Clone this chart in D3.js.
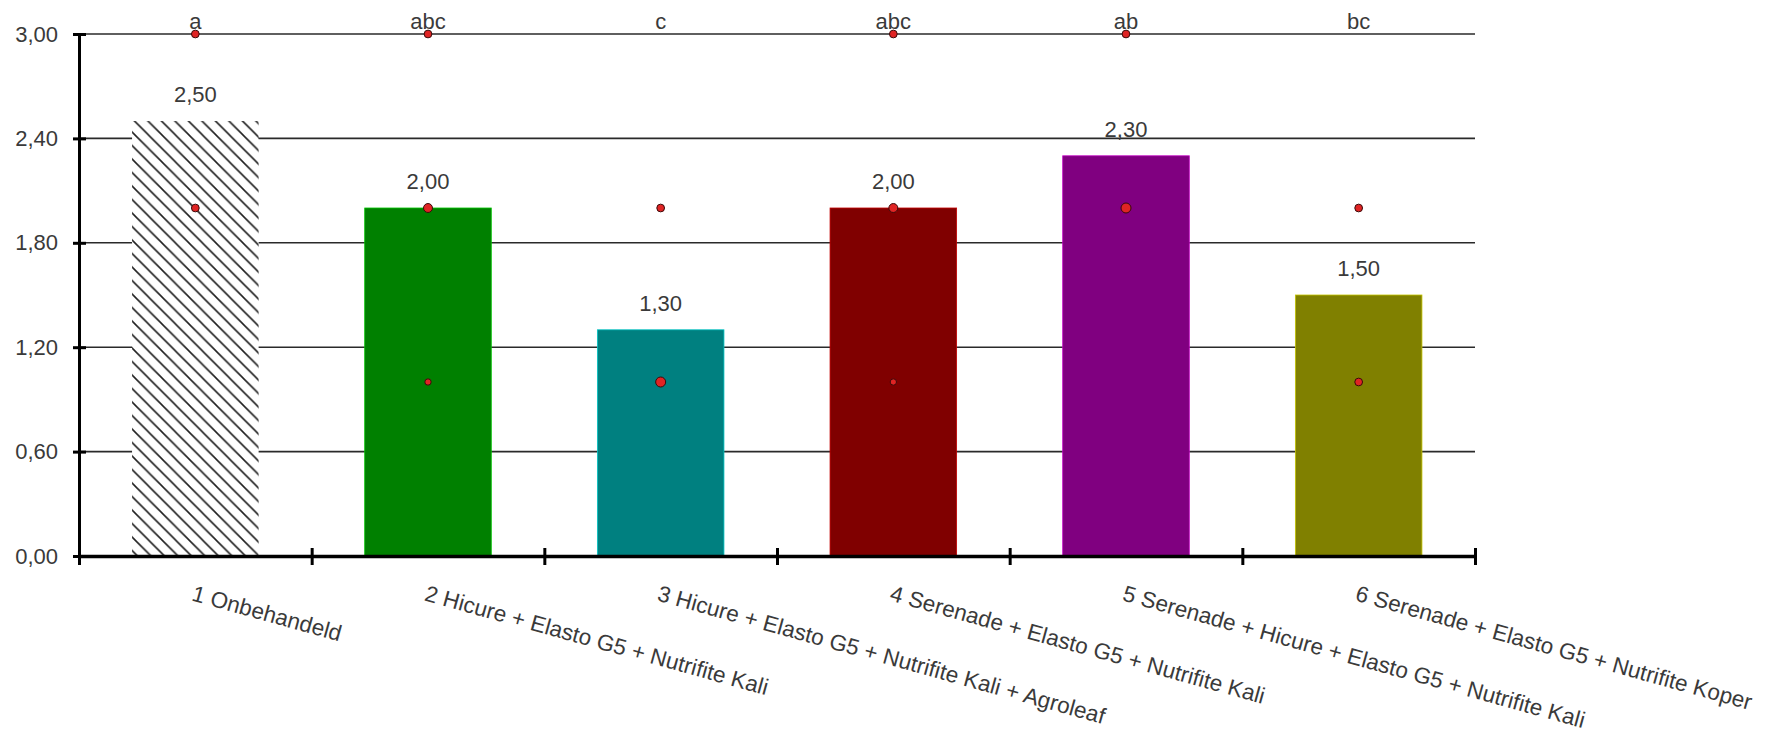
<!DOCTYPE html>
<html>
<head>
<meta charset="utf-8">
<script src="https://cdn.jsdelivr.net/npm/d3@7"></script>
<style>
  body { margin: 0; background: #fff; }
  text { font-family: "Liberation Sans", Arial, sans-serif; fill: #3a3a3a; }
</style>
</head>
<body>
<div id="chart"></div>
<script>
// DATA
const treatments = [
  "1 Onbehandeld",
  "2 Hicure + Elasto G5 + Nutrifite Kali",
  "3 Hicure + Elasto G5 + Nutrifite Kali + Agroleaf",
  "4 Serenade + Elasto G5 + Nutrifite Kali",
  "5 Serenade + Hicure + Elasto G5 + Nutrifite Kali",
  "6 Serenade + Elasto G5 + Nutrifite Koper"
];
const means = [2.5, 2.0, 1.3, 2.0, 2.3, 1.5];
const letters = ["a", "abc", "c", "abc", "ab", "bc"];
const yTicks = [0, 0.6, 1.2, 1.8, 2.4, 3.0];

// single observations (treatment index, score, how many)
const obsTreatment = [0, 0, 1, 1, 1, 2, 2, 3, 3, 3, 4, 4, 5, 5];
const obsScore = [3, 2, 3, 2, 1, 2, 1, 3, 2, 1, 3, 2, 2, 1];
const obsCount = [3, 3, 3, 4, 2, 3, 5, 3, 4, 2, 3, 5, 3, 3];

// COLORS ("hatch" = pattern)
const barColors = ["hatch", "#008000", "#008080", "#800000", "#800080", "#808000"];

// SIZES
const w = 1775;
const h = 738;
const plotLeft = 79;
const plotRight = 1475;
const plotTop = 34;
const plotBottom = 556;

const svg = d3.select("#chart").append("svg").attr("width", w).attr("height", h);

// hatch pattern for the untreated bar
const pat = svg.append("defs").append("pattern")
  .attr("id", "hatch")
  .attr("patternUnits", "userSpaceOnUse")
  .attr("width", 13.5)
  .attr("height", 13.5);
pat.append("rect").attr("width", 13.5).attr("height", 13.5).attr("fill", "#fff");
pat.append("path")
  .attr("d", "M-3.4,10.1 L3.4,16.9 M0,0 L13.5,13.5 M10.1,-3.4 L16.9,3.4")
  .attr("stroke", "#222")
  .attr("stroke-width", 1.6);

// SCALES
const x = d3.scaleBand().domain(d3.range(treatments.length)).range([plotLeft, plotRight]);
const xEdge = d3.scaleLinear().domain([0, treatments.length]).range([plotLeft, plotRight]);
const y = d3.scaleLinear().domain([0, 3]).range([plotBottom, plotTop]);
const r = d3.scaleSqrt().domain([0, 5]).range([0, 5]);
const barW = x.bandwidth() * 0.544;
const cx = (i) => x(i) + x.bandwidth() / 2;
const fmt = (v) => d3.format(".2f")(v).replace(".", ",");

// GRIDLINES (behind bars)
svg.append("g")
  .selectAll("line")
  .data(yTicks.filter((d) => d > 0))
  .enter()
  .append("line")
  .attr("x1", plotLeft)
  .attr("x2", plotRight)
  .attr("y1", (d) => y(d))
  .attr("y2", (d) => y(d))
  .attr("stroke", "#2a2a2a")
  .attr("stroke-width", 1.6);

// BARS
svg.append("g")
  .selectAll("rect")
  .data(means)
  .enter()
  .append("rect")
  .attr("x", (d, i) => cx(i) - barW / 2)
  .attr("y", (d) => y(d))
  .attr("width", barW)
  .attr("height", (d) => y(0) - y(d))
  .attr("fill", (d, i) => (barColors[i] === "hatch" ? "url(#hatch)" : barColors[i]))
  .attr("stroke", (d, i) =>
    barColors[i] === "hatch" ? "none" : d3.color(barColors[i]).brighter(1.2)
  )
  .attr("stroke-width", 0.8);

// VALUE LABELS
svg.append("g")
  .selectAll("text")
  .data(means)
  .enter()
  .append("text")
  .attr("x", (d, i) => cx(i))
  .attr("y", (d) => y(d) - 19)
  .attr("text-anchor", "middle")
  .style("font-size", "22px")
  .text((d) => fmt(d));

// LETTERS
svg.append("g")
  .selectAll("text")
  .data(letters)
  .enter()
  .append("text")
  .attr("x", (d, i) => cx(i))
  .attr("y", 29)
  .attr("text-anchor", "middle")
  .style("font-size", "22px")
  .text((d) => d);

// Y AXIS
const yAxis = svg.append("g")
  .attr("transform", "translate(" + plotLeft + ",0)")
  .call(
    d3.axisLeft(y).tickValues(yTicks).tickFormat(fmt).tickSize(6).tickPadding(15)
  );
yAxis.select(".domain").attr("stroke", "#000").attr("stroke-width", 3);
yAxis.selectAll(".tick line").attr("x1", -6).attr("x2", 7).attr("stroke", "#000").attr("stroke-width", 3);
yAxis.selectAll(".tick text").style("font-size", "22px").attr("font-family", null).attr("fill", null);

// X AXIS
const xAxis = svg.append("g")
  .attr("transform", "translate(0," + plotBottom + ")")
  .call(d3.axisBottom(xEdge).tickValues(d3.range(treatments.length + 1)).tickFormat("").tickSizeOuter(0));
xAxis.select(".domain").attr("stroke", "#000").attr("stroke-width", 3.5);
xAxis.selectAll(".tick line").attr("y1", -8).attr("y2", 9).attr("stroke", "#000").attr("stroke-width", 3);

// X LABELS
svg.append("g")
  .selectAll("text")
  .data(treatments)
  .enter()
  .append("text")
  .attr("transform", (d, i) => "translate(" + cx(i) + ",584) rotate(15.5)")
  .attr("dy", "0.75em")
  .style("font-size", "22.5px")
  .text((d) => d);

// OBSERVATION DOTS
svg.append("g")
  .selectAll("circle")
  .data(obsScore)
  .enter()
  .append("circle")
  .attr("cx", (d, i) => cx(obsTreatment[i]))
  .attr("cy", (d) => y(d))
  .attr("r", (d, i) => r(obsCount[i]))
  .attr("fill", "#e02424")
  .attr("stroke", "#3a0a0a")
  .attr("stroke-width", 1);
</script>
</body>
</html>
